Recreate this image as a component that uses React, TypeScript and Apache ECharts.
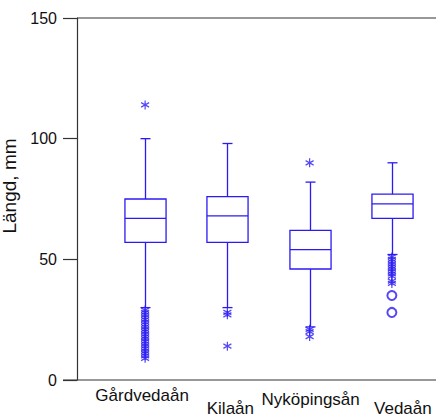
import React, { useEffect, useRef } from "react";
import * as echarts from "echarts";

const categories = ["Gårdvedaån", "Kilaån", "Nyköpingsån", "Vedaån"];
const boxMin = [30, 30, 22, 52];
const boxQ1 = [57, 57, 46, 67];
const boxMedian = [67, 68, 54, 73];
const boxQ3 = [75, 76, 62, 77];
const boxMax = [100, 98, 82, 90];

const gardvedaanStars = [114, 29, 28, 27, 26, 25, 24, 23, 22, 21, 20, 19, 18, 17, 16, 15, 14, 13, 12, 11, 10, 9];
const kilaanStars = [28, 27, 14];
const nykopingsanStars = [90, 21, 20, 18];
const vedaanStars = [51, 50, 49, 48, 47, 46, 45, 44, 43, 41, 40];
const vedaanCircles = [35, 28];

const yTicks = [0, 50, 100, 150];

const BLUE = "#2b1bf2";
const AXIS = "#333333";
const FONT = "'Liberation Sans', Arial, sans-serif";

const STAR =
  "path://M0,-1L0,1M-0.866,-0.5L0.866,0.5M-0.866,0.5L0.866,-0.5";

export default function App() {
  const ref = useRef<HTMLDivElement>(null);
  useEffect(() => {
    if (!ref.current) return;
    const chart = echarts.init(ref.current, undefined, { renderer: "svg" });

    const boxData = categories.map((c, i) => [i, boxMin[i], boxQ1[i], boxMedian[i], boxQ3[i], boxMax[i]]);
    const starData: any[] = [];
    gardvedaanStars.forEach((v) => starData.push([categories[0], v]));
    kilaanStars.forEach((v) => starData.push([categories[1], v]));
    nykopingsanStars.forEach((v) => starData.push([categories[2], v]));
    vedaanStars.forEach((v) => starData.push([categories[3], v]));
    const circleData = vedaanCircles.map((v) => [categories[3], v]);

    const line = { stroke: BLUE, lineWidth: 1.3 };
    const lbl = { fontSize: 17, fontFamily: FONT, color: "#111" };

    chart.setOption({
      animation: false,
      textStyle: { fontFamily: FONT },
      grid: {
        left: 104,
        width: 329,
        top: 18,
        bottom: 39,
        containLabel: false,
        outerBoundsMode: "none",
      },
      xAxis: {
        type: "category",
        data: categories,
        boundaryGap: true,
        axisLine: { show: false },
        axisTick: { show: false },
        axisLabel: {
          interval: 0,
          margin: 7,
          color: "#111",
          fontSize: 17,
          fontFamily: FONT,
          formatter: (v: string, i: number) => `{c${i}|${v}}`,
          rich: {
            c0: { ...lbl, padding: [0, 6, 0, 0] },
            c1: { ...lbl, padding: [13, 0, 0, 6] },
            c2: { ...lbl, padding: [4, 0, 0, 2] },
            c3: { ...lbl, padding: [13, 0, 0, 22] },
          },
        },
      },
      yAxis: {
        type: "value",
        min: 0,
        max: 150,
        interval: 50,
        offset: 27,
        name: "Längd, mm",
        nameLocation: "middle",
        nameGap: 43,
        nameTextStyle: { fontSize: 19, color: "#111", fontFamily: FONT, padding: [0, 0, 0, 26] },
        axisLine: { show: true, lineStyle: { color: AXIS, width: 1.2 } },
        axisTick: { show: true, inside: false, length: 14, lineStyle: { color: AXIS, width: 1.2 } },
        axisLabel: {
          margin: 20,
          color: "#111",
          fontSize: 16,
          fontFamily: FONT,
          customValues: yTicks,
        },
        splitLine: { show: false },
      },
      graphic: [
        { type: "line", shape: { x1: 63, y1: 380, x2: 436, y2: 380 }, style: { stroke: AXIS, lineWidth: 1.2 } },
        { type: "line", shape: { x1: 77, y1: 18, x2: 436, y2: 18 }, style: { stroke: AXIS, lineWidth: 1.2 } },
      ],
      series: [
        {
          type: "custom",
          data: boxData,
          encode: { x: 0, y: [1, 2, 3, 4, 5] },
          renderItem: (params: any, api: any) => {
            const x = api.value(0);
            const pMin = api.coord([x, api.value(1)]);
            const pQ1 = api.coord([x, api.value(2)]);
            const pMed = api.coord([x, api.value(3)]);
            const pQ3 = api.coord([x, api.value(4)]);
            const pMax = api.coord([x, api.value(5)]);
            const band = api.size([1, 0])[0];
            const bw = band * 0.5;
            const cap = 10;
            const cx = Math.round(pMin[0]) + 0.5;
            return {
              type: "group",
              children: [
                { type: "line", shape: { x1: cx, y1: pMax[1], x2: cx, y2: pQ3[1] }, style: line },
                { type: "line", shape: { x1: cx - cap / 2, y1: pMax[1], x2: cx + cap / 2, y2: pMax[1] }, style: line },
                { type: "line", shape: { x1: cx, y1: pQ1[1], x2: cx, y2: pMin[1] }, style: line },
                { type: "line", shape: { x1: cx - cap / 2, y1: pMin[1], x2: cx + cap / 2, y2: pMin[1] }, style: line },
                {
                  type: "rect",
                  shape: { x: cx - bw / 2, y: pQ3[1], width: bw, height: pQ1[1] - pQ3[1] },
                  style: { fill: "none", stroke: BLUE, lineWidth: 1.3 },
                },
                { type: "line", shape: { x1: cx - bw / 2, y1: pMed[1], x2: cx + bw / 2, y2: pMed[1] }, style: line },
              ],
            };
          },
          z: 2,
        },
        {
          type: "scatter",
          data: starData,
          symbol: STAR,
          symbolSize: [8, 9],
          itemStyle: { color: "none", borderColor: BLUE, borderWidth: 1.3 },
          z: 3,
        },
        {
          type: "scatter",
          data: circleData,
          symbol: "emptyCircle",
          symbolSize: 9,
          itemStyle: { color: BLUE, borderColor: BLUE, borderWidth: 1.3 },
          z: 3,
        },
      ],
    });
    return () => chart.dispose();
  }, []);
  return (
    <div
      ref={ref}
      style={{ position: "fixed", left: 0, top: 0, width: 436, height: 419, background: "#fff" }}
    />
  );
}
